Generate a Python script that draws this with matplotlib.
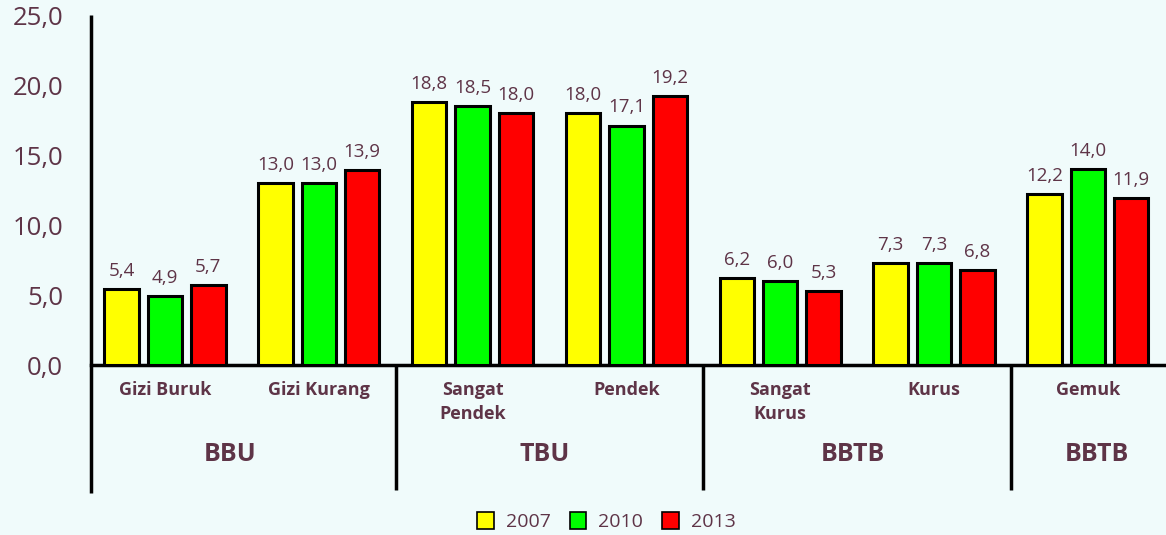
import matplotlib
matplotlib.use("Agg")
import matplotlib.pyplot as plt
import matplotlib.transforms as mtransforms
from matplotlib.lines import Line2D
import numpy as np

categories = ["Gizi Buruk", "Gizi Kurang", "Sangat\nPendek", "Pendek", "Sangat\nKurus", "Kurus", "Gemuk"]
groups = ["BBU", "TBU", "BBTB", "BBTB"]
group_centers = [0.42, 2.47, 4.47, 6.06]
separators = [1.5, 3.5, 5.5]
years = ["2007", "2010", "2013"]
v2007 = [5.4, 13.0, 18.8, 18.0, 6.2, 7.3, 12.2]
v2010 = [4.9, 13.0, 18.5, 17.1, 6.0, 7.3, 14.0]
v2013 = [5.7, 13.9, 18.0, 19.2, 5.3, 6.8, 11.9]
yticks = [0, 5, 10, 15, 20, 25]

colors = ["#ffff00", "#00ff00", "#ff0000"]
txt = "#5e3447"
bg = "#f0fbfb"
plt.rcParams['font.family'] = ['Open Sans', 'DejaVu Sans']

fig = plt.figure(figsize=(11.66, 5.35), dpi=100, facecolor=bg)
ax = fig.add_axes([91/1166, 1-365/535, 1-91/1166, 350/535])
ax.set_facecolor(bg)

x = np.arange(len(categories))
w = 0.224
off = 0.282
for i, (vals, c) in enumerate(zip([v2007, v2010, v2013], colors)):
    bars = ax.bar(x + (i-1)*off, vals, width=w, color=c, edgecolor="black", linewidth=2.2, zorder=3)
    for b, v in zip(bars, vals):
        ax.annotate(f"{v:.1f}".replace(".", ","), (b.get_x()+b.get_width()/2, v),
                    xytext=(0, 9.5), textcoords="offset points", ha="center", va="baseline",
                    fontsize=13.5, color=txt)

ax.set_xlim(-0.481, 6.508)
ax.set_ylim(0, 25)
ax.set_yticks(yticks)
ax.set_yticklabels([f"{t:.1f}".replace(".", ",") for t in yticks], fontsize=18.5, color=txt)
ax.tick_params(axis='y', length=0, pad=20)
ax.set_xticks([])
for s in ["top", "right"]:
    ax.spines[s].set_visible(False)
ax.spines["left"].set_visible(False)
ax.spines["bottom"].set_linewidth(2.5)

trans = mtransforms.blended_transform_factory(ax.transData, ax.transAxes)
ax.add_line(Line2D([-0.481, -0.481], [-0.366, 1.0], transform=trans, color="black", lw=2.5,
                   clip_on=False, zorder=5, solid_capstyle="butt"))
for s in separators:
    ax.add_line(Line2D([s, s], [0, -0.357], transform=trans, color="black", lw=2.5, clip_on=False,
                       solid_capstyle="butt"))

for xi, c in zip(x, categories):
    ax.text(xi, -0.045, c, transform=trans, ha="center", va="top", fontsize=13,
            fontweight="bold", color=txt, linespacing=1.45)
for gx, g in zip(group_centers, groups):
    ax.text(gx, -0.257, g, transform=trans, ha="center", va="center", fontsize=18,
            fontweight="bold", color=txt)

handles = [plt.Rectangle((0, 0), 1, 1, facecolor=c, edgecolor="black", linewidth=1.2) for c in colors]
fig.legend(handles, years, loc="lower center", bbox_to_anchor=(0.52, -0.025), ncol=3, frameon=False,
           fontsize=14, labelcolor=txt, handlelength=0.85, handleheight=1.0, columnspacing=1.0,
           handletextpad=0.6)

fig.savefig("out.png", dpi=100, facecolor=bg)
